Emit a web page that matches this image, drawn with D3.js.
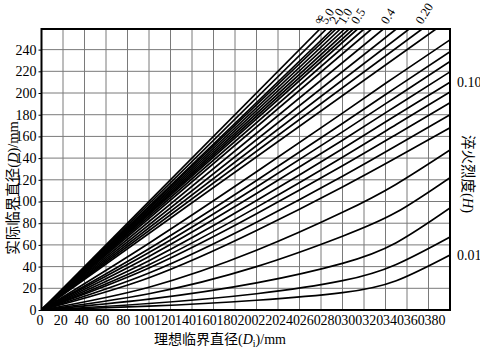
<!DOCTYPE html>
<html>
<head>
<meta charset="utf-8">
<script src="https://cdn.jsdelivr.net/npm/d3@7"></script>
<style>
  body { margin: 0; background: #fff; }
  text { font-family: "Liberation Serif", "Noto Sans CJK SC", serif; fill: #000; }
</style>
</head>
<body>
<svg id="chart" width="480" height="350"></svg>
<script>
// axis extents and ticks
const xMax = 380, yMax = 259;
const xTickValues = d3.range(0, 381, 20);
const yTickValues = d3.range(0, 241, 20);
const xGridValues = d3.range(20, 361, 20);
const yGridValues = d3.range(20, 241, 20);

// curves that leave through the top edge (Di, D)
const topCurves = [
  [[0, 0], [259, 259]],
  [[0, 0], [265, 259]],
  [[0, 0], [271, 259]],
  [[0, 0], [274, 259]],
  [[0, 0], [278, 259]],
  [[0, 0], [282, 259]],
  [[0, 0], [286, 259]],
  [[0, 0], [290, 259]],
  [[0, 0], [294, 259]],
  [[0, 0], [300, 259]],
  [[0, 0], [307, 259]],
  [[0, 0], [318, 259]],
  [[0, 0], [330, 259]],
  [[0, 0], [342, 259]],
  [[0, 0], [354, 259]],
  [[0, 0], [367, 259]]
];

// curves that leave through the right edge (Di, D)
const sideCurves = [
  [[0, 0], [100, 61.6], [200, 127.4], [280, 181.5], [330, 215.6], [380, 249]],
  [[0, 0], [100, 56.5], [200, 119.4], [280, 171.9], [330, 205.2], [380, 238]],
  [[0, 0], [100, 52.9], [200, 113.3], [280, 164.2], [330, 196.6], [380, 229]],
  [[0, 0], [100, 49.4], [200, 107.3], [280, 156.5], [330, 188.1], [380, 219.5]],
  [[0, 0], [100, 45.5], [200, 100.9], [280, 148.7], [330, 179.5], [380, 210]],
  [[0, 0], [100, 41.8], [200, 94.6], [280, 140.8], [330, 170.9], [380, 201]],
  [[0, 0], [100, 38.7], [200, 88.7], [280, 132.9], [330, 161.8], [380, 191]],
  [[0, 0], [100, 34.1], [200, 80.9], [280, 123.3], [330, 151.4], [380, 180]],
  [[0, 0], [100, 29.7], [200, 73.2], [280, 113.4], [330, 140.3], [380, 168]],
  [[0, 0], [100, 21], [200, 55], [280, 90], [330, 116], [380, 147.5]],
  [[0, 0], [100, 15], [200, 40], [280, 68], [330, 90], [380, 122]],
  [[0, 0], [100, 10], [200, 25], [280, 43], [330, 62], [380, 94]],
  [[0, 0], [100, 6], [200, 15], [280, 27], [330, 42], [380, 67.3]],
  [[0, 0], [100, 3.5], [200, 9], [280, 16], [330, 27], [380, 50.7]]
];

// quench severity labels
const topLabels = ["∞", "5.0", "2.0", "1.0", "0.5", "0.4", "0.20"];
const topLabelCurve = [0, 1, 3, 5, 8, 11, 14];
const sideLabels = ["0.10", "0.01"];
const sideLabelCurve = [4, 13];

const margin = { top: 29, right: 30, bottom: 40, left: 41.5 };
const width = 480 - margin.left - margin.right;
const height = 350 - margin.top - margin.bottom;

const svg = d3.select("#chart");
const chart = svg.append("g")
  .attr("transform", `translate(${margin.left},${margin.top})`);

const xScale = d3.scaleLinear().domain([0, xMax]).range([0, width]);
const yScale = d3.scaleLinear().domain([0, yMax]).range([height, 0]);
// tick labels in the original drift a little left of the grid
const xLabelScale = d3.scaleLinear().domain([0, 380]).range([-2, 393]);

// grid
chart.selectAll(".vgrid").data(xGridValues).join("line")
  .attr("x1", d => xScale(d)).attr("x2", d => xScale(d))
  .attr("y1", 0).attr("y2", height)
  .attr("stroke", "#7a7a7a").attr("stroke-width", 1);
chart.selectAll(".hgrid").data(yGridValues).join("line")
  .attr("x1", 0).attr("x2", width)
  .attr("y1", d => yScale(d)).attr("y2", d => yScale(d))
  .attr("stroke", "#7a7a7a").attr("stroke-width", 1);

// curves
chart.append("clipPath").attr("id", "plot-clip")
  .append("rect").attr("width", width).attr("height", height);

const line = d3.line()
  .x(d => xScale(d[0]))
  .y(d => yScale(d[1]))
  .curve(d3.curveNatural);

chart.append("g").attr("clip-path", "url(#plot-clip)")
  .selectAll("path").data(topCurves.concat(sideCurves)).join("path")
  .attr("d", line)
  .attr("fill", "none")
  .attr("stroke", "#000")
  .attr("stroke-width", 1.7);

// frame
chart.append("rect")
  .attr("width", width).attr("height", height)
  .attr("fill", "none").attr("stroke", "#000").attr("stroke-width", 2);

// axes
const yAxis = d3.axisLeft(yScale).tickValues(yTickValues).tickSize(3).tickPadding(2);
chart.append("g").call(yAxis)
  .call(g => g.select(".domain").remove())
  .call(g => g.selectAll("text").attr("font-size", 14).attr("font-family", "Liberation Serif"));

const xAxis = d3.axisBottom(xLabelScale).tickValues(xTickValues).tickSize(0).tickPadding(5);
chart.append("g").attr("transform", `translate(0,${height})`).call(xAxis)
  .call(g => g.select(".domain").remove())
  .call(g => g.selectAll("text").attr("font-size", 14).attr("font-family", "Liberation Serif"));

// severity labels on top
topLabels.forEach((t, i) => {
  const c = topCurves[topLabelCurve[i]];
  const p = c[c.length - 1];
  chart.append("text")
    .attr("transform", `translate(${xScale(p[0]) + (i === 5 ? 4 : 0)},-4) rotate(-58)`)
    .attr("font-size", 12.5)
    .text(t);
});

// severity labels on the right
sideLabels.forEach((t, i) => {
  const c = sideCurves[sideLabelCurve[i]];
  const p = c[c.length - 1];
  chart.append("text")
    .attr("x", width + 7)
    .attr("y", yScale(p[1]) + 5)
    .attr("font-size", 14)
    .text(t);
});

// axis titles
const xTitle = svg.append("text")
  .attr("x", 220).attr("y", 344)
  .attr("text-anchor", "middle")
  .attr("font-size", 14);
xTitle.append("tspan").text("理想临界直径(");
xTitle.append("tspan").attr("font-style", "italic").text("D");
xTitle.append("tspan").attr("font-size", 10).attr("dy", 3).text("i");
xTitle.append("tspan").attr("dy", -3).text(")/mm");

const yTitle = svg.append("text")
  .attr("transform", "translate(18,188) rotate(-90)")
  .attr("text-anchor", "middle")
  .attr("font-size", 14.5);
yTitle.append("tspan").text("实际临界直径(");
yTitle.append("tspan").attr("font-style", "italic").text("D");
yTitle.append("tspan").text(")/mm");

const rTitle = svg.append("text")
  .attr("transform", "translate(463,174) rotate(90)")
  .attr("text-anchor", "middle")
  .attr("font-size", 14.5);
rTitle.append("tspan").text("淬火烈度(");
rTitle.append("tspan").attr("font-style", "italic").text("H");
rTitle.append("tspan").text(")");
</script>
</body>
</html>
